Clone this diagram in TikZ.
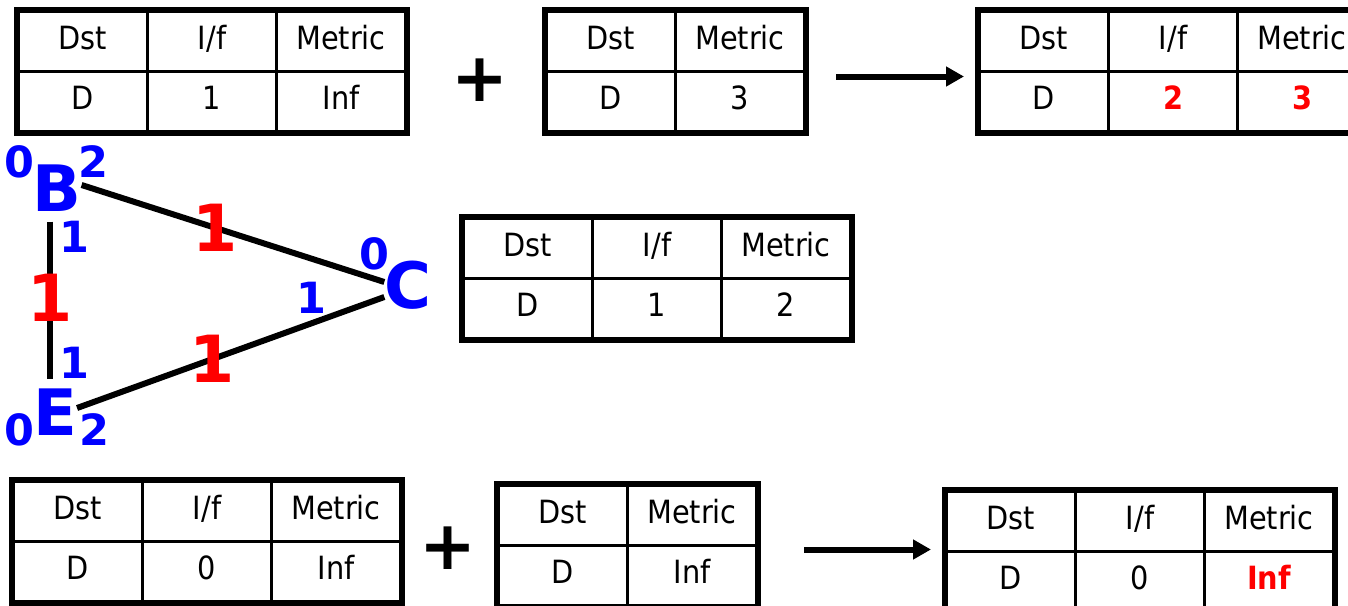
\documentclass[tikz,border=0pt]{standalone}
\usepackage{fontspec}
\setmainfont{DejaVu Sans Condensed}[BoldFont={DejaVu Sans Condensed Bold}]
\newfontfamily\grfont{DejaVu Sans}[BoldFont={DejaVu Sans Bold}]
\usetikzlibrary{arrows.meta,matrix,positioning,calc}
\newcommand{\tabsize}{\fontsize{32}{36}\selectfont}

\begin{document}
\begin{tikzpicture}[x=1pt,y=-1pt,
  font=\tabsize,
  cell/.style={draw,line width=2.6pt,minimum width=129pt,minimum height=60pt,inner sep=0pt,
               text height=23pt,text depth=7pt,anchor=center},
  tab/.style={matrix of nodes,nodes={cell},column sep=-2.6pt,row sep=-2.6pt,
              inner sep=0pt,anchor=north west},
  frame/.style={line width=6pt},
  chg/.style={text=red,font=\tabsize\bfseries},
  vtx/.style={text=blue,inner sep=0pt,font=\grfont\fontsize{64}{70}\selectfont\bfseries},
  port/.style={text=blue,inner sep=0pt,font=\grfont\fontsize{43}{48}\selectfont\bfseries},
  cost/.style={text=red,inner sep=0pt,font=\grfont\fontsize{65}{72}\selectfont\bfseries},
  edge/.style={line width=6pt},
  plus/.style={inner sep=0pt,font=\grfont\fontsize{68}{72}\selectfont\bfseries},
  arr/.style={-{Triangle[length=18pt,width=19pt]},line width=6pt}]
  \useasboundingbox (0,0) rectangle (1348,605);
  % top row: table of B, update from C, new table of B
  \matrix[tab] (tabB) at (17,10) {Dst & I/f & Metric\\ D & 1 & Inf\\};
  \node[plus] (plusTop) at (480,80) {+};
  \matrix[tab] (advC) at (545,10) {Dst & Metric\\ D & 3\\};
  \matrix[tab] (tabBnew) at (978,10) {Dst & I/f & Metric\\ D & |[chg]| 2 & |[chg]| 3\\};
  \draw[arr,shorten <=30pt,shorten >=14pt] ($(advC.east)+(0,5)$) -- ($(tabBnew.west)+(0,5)$);
  % table of C
  \matrix[tab] (tabC) at (462,217) {Dst & I/f & Metric\\ D & 1 & 2\\};
  % bottom row: table of E, update from B, new table of E
  \matrix[tab] (tabE) at (12,480) {Dst & I/f & Metric\\ D & 0 & Inf\\};
  \node[plus] (plusBot) at (448,548) {+};
  \matrix[tab] (advB) at (497,484) {Dst & Metric\\ D & Inf\\};
  \matrix[tab] (tabEnew) at (945,490) {Dst & I/f & Metric\\ D & 0 & |[chg]| Inf\\};
  \draw[arr,shorten <=46pt,shorten >=14pt] ($(advB.east)+(0,4)$) -- ($(advB.east -| tabEnew.west)+(0,4)$);
  \foreach \t in {tabB,advC,tabBnew,tabC,tabE,advB,tabEnew}
    \draw[frame] (\t.north west) rectangle (\t.south east);
  % routers
  \node[vtx] (B) at (57,188) {B};
  \node[vtx] (C) at (408,285) {C};
  \node[vtx] (E) at (55,412) {E};
  \draw[edge] ([yshift=3pt]B.east) -- node[cost,pos=0.44] (cBC) {1} ([yshift=3pt]C.west);
  \draw[edge] ([xshift=-7pt,yshift=-10pt]B.south) -- node[cost,pos=0.48] (cBE) {1}
    ([xshift=-5pt,yshift=9pt]E.north);
  \draw[edge] ([yshift=4pt]E.east) -- node[cost,pos=0.44] (cEC) {1} ([yshift=-12pt]C.west);
  % interface numbers
  \node[port] (pB0) at (19,162) {0};
  \node[port] (pB2) at (93,162) {2};
  \node[port] (pB1) at (74,237) {1};
  \node[port] (pE1) at (74,363) {1};
  \node[port] (pE0) at (19,430) {0};
  \node[port] (pE2) at (94,430) {2};
  \node[port] (pC0) at (374,254) {0};
  \node[port] (pC1) at (311,298) {1};
\end{tikzpicture}
\end{document}
